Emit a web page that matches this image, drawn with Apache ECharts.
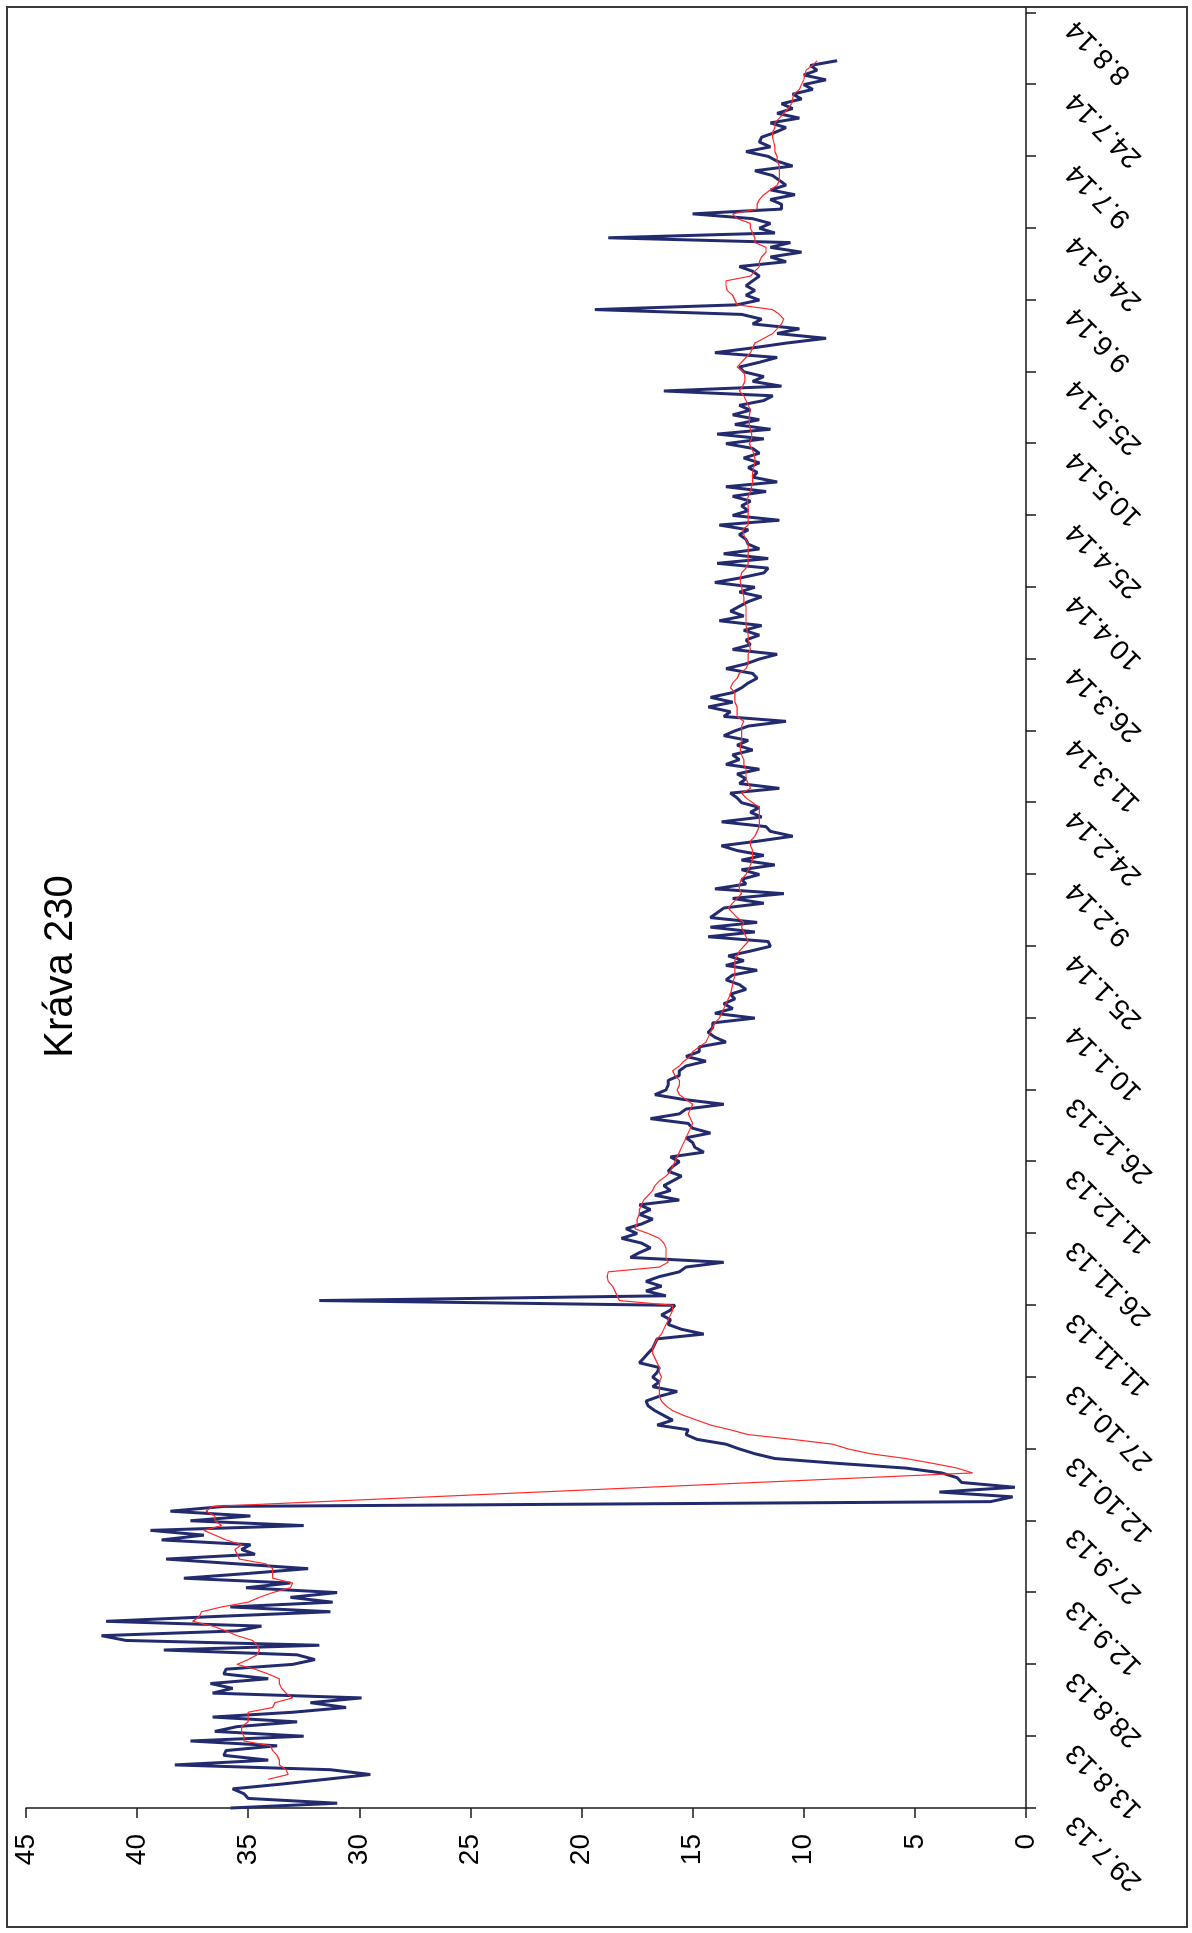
<!DOCTYPE html>
<html>
<head>
<meta charset="utf-8">
<script src="https://cdn.jsdelivr.net/npm/echarts@6/dist/echarts.min.js"></script>
<style>
  html, body { margin: 0; padding: 0; background: #fff; overflow: hidden; }
  /* the chart is laid out landscape and turned a quarter turn counter-clockwise */
  #wrap {
    position: absolute; left: 0; top: 0;
    width: 1933px; height: 1192px;
    transform-origin: 0 0;
    transform: translate(0, 1933px) rotate(-90deg);
  }
</style>
</head>
<body>
<div id="wrap"></div>
<script>
// date labels every 15 days, from 29.7.13
const TICK_LABELS = ['29.7.13','13.8.13','28.8.13','12.9.13','27.9.13','12.10.13','27.10.13',
  '11.11.13','26.11.13','11.12.13','26.12.13','10.1.14','25.1.14','9.2.14','24.2.14',
  '11.3.14','26.3.14','10.4.14','25.4.14','10.5.14','25.5.14','9.6.14','24.6.14',
  '9.7.14','24.7.14','8.8.14'];
const TICK_STEP = 15;
const AXIS_DAY_COUNT = 377;   // 29.7.13 .. 9.8.14

// daily values (day 0 = 29.7.13)
const DAILY = [
  35.8, 31.0, 35.0, 35.2, 35.7, 33.5, 31.5, 29.5, 31.3, 38.3,
  34.1, 36.1, 36.0, 33.7, 37.6, 32.5, 36.5, 35.5, 32.8, 36.6,
  33.0, 30.6, 32.2, 29.9, 36.6, 35.7, 36.7, 34.1, 36.1, 36.0,
  33.0, 32.0, 32.8, 38.8, 31.8, 40.5, 41.6, 35.5, 34.4, 41.4,
  36.5, 31.3, 35.8, 31.2, 33.1, 31.0, 35.1, 33.1, 37.9, 35.0,
  32.3, 35.5, 38.7, 34.7, 35.3, 34.9, 38.9, 37.0, 39.4, 32.5,
  37.6, 34.9, 38.5, 36.1, 1.6, 0.6, 3.9, 0.5, 2.9, 3.1,
  3.8, 5.4, 8.5, 11.3, 12.2, 12.9, 13.5, 14.8, 15.3, 15.2,
  16.6, 15.9, 16.3, 16.7, 17.0, 17.1, 16.5, 15.7, 16.8, 16.5,
  16.8, 16.6, 16.5, 17.4, 17.2, 17.0, 16.8, 16.7, 16.6, 14.5,
  15.5, 16.1, 16.0, 16.4, 16.0, 15.8, 31.8, 16.2, 17.1, 16.4,
  17.1, 16.5, 15.6, 15.3, 13.6, 17.8, 17.4, 16.9, 17.3, 18.2,
  17.5, 18.0, 17.3, 16.8, 17.4, 16.9, 17.4, 15.6, 16.7, 16.0,
  16.3, 15.9, 15.5, 16.1, 15.9, 15.6, 16.0, 14.5, 14.9, 15.0,
  15.3, 14.2, 15.0, 15.2, 16.9, 15.6, 15.3, 13.6, 15.4, 16.7,
  16.2, 16.1, 16.1, 15.6, 15.6, 15.3, 14.4, 15.3, 14.7, 14.7,
  13.5, 14.0, 14.3, 14.1, 14.1, 12.2, 14.0, 13.2, 13.6, 13.1,
  13.3, 12.6, 12.9, 13.5, 13.2, 12.1, 13.5, 12.7, 13.4, 12.4,
  11.5, 11.6, 14.3, 12.2, 14.2, 12.1, 14.2, 13.9, 13.6, 11.8,
  13.2, 10.9, 14.0, 12.6, 12.8, 12.0, 12.8, 11.3, 12.8, 11.8,
  13.0, 13.7, 12.0, 10.5, 11.5, 11.7, 13.7, 11.9, 12.4, 12.0,
  12.8, 13.0, 13.3, 11.1, 12.9, 12.6, 13.0, 12.0, 13.5, 12.9,
  13.2, 12.3, 13.0, 12.5, 13.6, 13.1, 12.5, 10.8, 13.6, 13.3,
  14.3, 13.2, 14.2, 13.2, 12.8, 12.5, 12.1, 12.3, 13.5, 12.6,
  12.0, 11.2, 13.2, 12.4, 12.6, 12.0, 12.7, 11.9, 13.8, 12.7,
  13.3, 12.9, 12.5, 11.9, 12.9, 12.2, 14.0, 12.8, 11.8, 11.6,
  13.9, 11.6, 13.6, 12.0, 12.5, 12.6, 12.9, 12.5, 13.8, 11.1,
  13.2, 12.5, 12.8, 12.4, 13.2, 11.7, 13.5, 11.2, 12.3, 12.1,
  12.5, 12.0, 12.7, 12.0, 12.3, 13.5, 11.8, 13.9, 11.5, 13.1,
  12.0, 13.2, 12.4, 12.9, 11.8, 11.4, 16.3, 11.0, 12.3, 11.8,
  12.7, 12.9, 12.0, 11.2, 14.0, 12.3, 10.8, 9.0, 11.2, 10.2,
  12.3, 11.9, 12.8, 19.4, 13.0, 12.0, 12.6, 12.2, 12.6, 12.3,
  12.0, 12.3, 12.9, 10.8, 11.5, 10.1, 11.5, 10.6, 18.8, 11.3,
  12.0, 11.5, 12.3, 15.0, 11.0, 11.0, 11.5, 10.4, 11.5, 10.8,
  11.1, 11.4, 12.2, 10.5, 11.2, 11.6, 12.6, 11.5, 12.0, 11.9,
  11.3, 10.8, 11.5, 10.2, 11.2, 10.5, 11.0, 10.1, 10.5, 9.6,
  10.0, 9.0, 10.0, 9.4, 9.7, 8.5
];

// 7-day moving average curve (null where it is not drawn)
const AVERAGE = [
  null, null, null, null, null, null, 34.1, 33.2, 33.3, 33.6,
  33.6, 33.7, 33.9, 34.0, 35.2, 35.2, 35.3, 35.3, 35.0, 35.0,
  35.0, 33.9, 33.8, 33.0, 33.3, 33.5, 33.6, 33.6, 34.1, 34.7,
  35.5, 35.0, 34.6, 34.5, 34.6, 34.8, 35.5, 36.0, 36.6, 37.5,
  37.2, 37.1, 36.2, 35.0, 34.5, 33.9, 33.1, 33.0, 33.9, 33.9,
  33.9, 34.2, 35.4, 35.5, 35.6, 35.3, 36.0, 36.5, 37.0, 36.2,
  36.5, 36.5, 36.9, 36.6, null, null, null, null, null, null,
  2.4, 3.1, 4.2, 5.4, 7.0, 8.0, 8.7, 10.5, 12.5, 13.3,
  14.2, 14.8, 15.4, 15.9, 16.2, 16.4, 16.5, 16.5, 16.5, 16.5,
  16.4, 16.5, 16.5, 16.6, 16.7, 16.8, 16.8, 16.7, 16.6, 16.4,
  16.3, 16.2, 16.1, 16.0, 15.9, 15.9, 18.3, 18.4, 18.5, 18.6,
  18.8, 18.85, 18.8, 16.5, 16.1, 16.2, 16.2, 16.2, 16.3, 16.5,
  17.0, 17.6, 17.5, 17.5, 17.4, 17.4, 17.3, 17.2, 17.0, 16.8,
  16.7, 16.5, 16.2, 16.0, 15.9, 15.8, 15.7, 15.6, 15.5, 15.4,
  15.3, 15.2, 15.1, 15.0, 15.1, 15.2, 15.1, 15.0, 15.3, 15.6,
  15.7, 15.6, 15.6, 15.8, 15.9, 15.6, 15.4, 15.1, 15.0, 14.7,
  14.4, 14.3, 14.2, 14.1, 14.0, 13.8, 13.7, 13.6, 13.5, 13.4,
  13.3, 13.25, 13.2, 13.15, 13.1, 13.1, 13.1, 13.1, 13.0, 12.9,
  12.7, 12.5, 12.6, 12.7, 12.8, 12.7, 13.0, 13.2, 13.4, 13.2,
  13.0, 12.8, 12.9, 12.9, 12.8, 12.6, 12.5, 12.4, 12.3, 12.3,
  12.3, 12.4, 12.4, 12.2, 12.1, 12.0, 12.0, 12.0, 12.0, 12.0,
  12.3, 12.6, 12.8, 12.4, 12.5, 12.6, 12.6, 12.6, 12.7, 12.7,
  12.8, 12.85, 12.85, 12.8, 12.8, 12.8, 12.8, 12.7, 13.0, 13.0,
  13.0, 13.1, 13.1, 13.1, 13.3, 13.2, 13.0, 12.9, 12.6, 12.5,
  12.5, 12.5, 12.4, 12.45, 12.5, 12.5, 12.55, 12.6, 12.6, 12.6,
  12.6, 12.6, 12.7, 12.7, 12.75, 12.8, 12.85, 12.85, 12.8, 12.6,
  12.5, 12.5, 12.5, 12.5, 12.5, 12.6, 12.7, 12.75, 12.5, 12.5,
  12.5, 12.5, 12.5, 12.55, 12.5, 12.4, 12.35, 12.3, 12.3, 12.3,
  12.25, 12.2, 12.2, 12.25, 12.35, 12.45, 12.35, 12.35, 12.4, 12.45,
  12.45, 12.45, 12.4, 12.5, 12.6, 12.7, 12.9, 12.75, 12.65, 12.65,
  12.7, 13.0, 12.8, 12.6, 12.4, 12.3, 12.2, 11.8, 11.4, 11.2,
  11.0, 10.9, 11.1, 11.4, 13.0, 13.1, 13.2, 13.45, 13.5, 13.5,
  12.4, 12.2, 12.0, 12.0, 11.9, 11.7, 11.7, 12.2, 12.2, 12.3,
  12.4, 12.4, 13.0, 13.2, 12.1, 12.1, 12.0, 11.8, 11.5, 11.2,
  11.1, 11.1, 11.1, 11.1, 11.2, 11.2, 11.3, 11.3, 11.35, 11.4,
  11.4, 11.3, 11.3, 11.1, 10.9, 10.7, 10.55, 10.5, 10.45, 10.2,
  10.1, 10.0, 9.95, 9.9, 9.6, 9.4
];

const VALUE_MIN = 0, VALUE_MAX = 45, VALUE_STEP = 5;

const dayIndex = Array.from({ length: AXIS_DAY_COUNT }, (_, i) => String(i));
const FONT = 'Liberation Sans, Arial, Helvetica, sans-serif';
const AXIS_COLOR = '#1a1a1a';

const chart = echarts.init(document.getElementById('wrap'), null, {
  renderer: 'canvas', width: 1933, height: 1192
});

chart.setOption({
  animation: false,
  backgroundColor: '#ffffff',
  title: {
    text: 'Kráva 230',
    left: 'center',
    top: 36,
    textStyle: { fontFamily: FONT, fontSize: 40, fontWeight: 'normal', color: '#000' }
  },
  graphic: [{
    type: 'rect',
    shape: { x: 6, y: 7, width: 1920, height: 1180 },
    style: { fill: 'none', stroke: '#3a3a3a', lineWidth: 2 },
    silent: true, z: 0
  }],
  grid: { left: 125, right: 8, top: 26, bottom: 166 },
  xAxis: {
    type: 'category',
    data: dayIndex,
    boundaryGap: false,
    axisLine: { lineStyle: { color: AXIS_COLOR, width: 1.5 } },
    axisTick: { show: true, interval: TICK_STEP - 1, length: 10, lineStyle: { color: AXIS_COLOR, width: 1.5 } },
    axisLabel: {
      interval: TICK_STEP - 1,
      rotate: 45,
      align: 'right',
      verticalAlign: 'bottom',
      padding: [0, 3, 0, 0],
      margin: 53,
      fontFamily: FONT,
      fontSize: 28,
      color: '#000',
      formatter: v => TICK_LABELS[Number(v) / TICK_STEP] ?? ''
    },
    splitLine: { show: false }
  },
  yAxis: {
    type: 'value',
    min: VALUE_MIN, max: VALUE_MAX, interval: VALUE_STEP,
    axisLine: { show: true, lineStyle: { color: AXIS_COLOR, width: 1.5 } },
    axisTick: { show: true, length: 10, lineStyle: { color: AXIS_COLOR, width: 1.5 } },
    axisLabel: { margin: 26, fontFamily: FONT, fontSize: 28, color: '#000' },
    splitLine: { show: false }
  },
  series: [
    {
      name: 'denní hodnota',
      type: 'line',
      data: DAILY,
      symbol: 'none',
      lineStyle: { color: '#232b6f', width: 3 },
      z: 2
    },
    {
      name: 'klouzavý průměr',
      type: 'line',
      data: AVERAGE,
      symbol: 'none',
      connectNulls: true,
      lineStyle: { color: '#ff2a2a', width: 1.2 },
      z: 3
    }
  ]
});
</script>
</body>
</html>
